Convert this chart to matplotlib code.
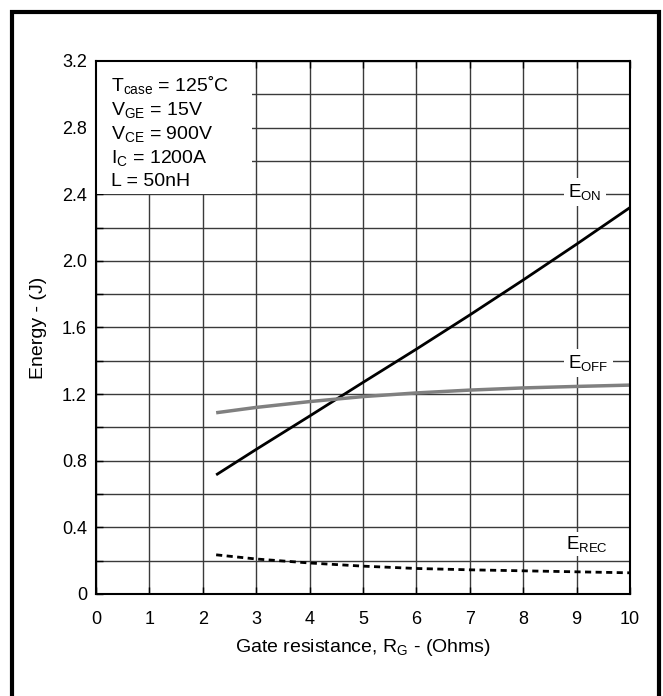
import matplotlib
matplotlib.use("Agg")
import matplotlib.pyplot as plt
from matplotlib.patches import Rectangle
from matplotlib.lines import Line2D

plt.rcParams['font.family'] = ['Liberation Sans', 'DejaVu Sans']
plt.rcParams['mathtext.fontset'] = 'custom'
plt.rcParams['mathtext.rm'] = 'Liberation Sans'
plt.rcParams['mathtext.it'] = 'Liberation Sans'
plt.rcParams['mathtext.default'] = 'regular'

# Data
rg = [2.25, 3, 4, 5, 6, 7, 8, 9, 10]
e_on = [0.715, 0.868, 1.068, 1.27, 1.47, 1.675, 1.885, 2.10, 2.32]
e_off = [1.088, 1.12, 1.155, 1.185, 1.207, 1.224, 1.237, 1.246, 1.254]
e_rec = [0.235, 0.21, 0.186, 0.167, 0.153, 0.145, 0.139, 0.133, 0.127]

x_ticks = list(range(0, 11))
y_ticks = [0, 0.4, 0.8, 1.2, 1.6, 2.0, 2.4, 2.8, 3.2]
y_tick_labels = ['0', '0.4', '0.8', '1.2', '1.6', '2.0', '2.4', '2.8', '3.2']
y_minor = [0.2, 0.6, 1.0, 1.4, 1.8, 2.2, 2.6, 3.0]

cond_lines = ['$T_{case}$ = 125˚C', '$V_{GE}$ = 15V', '$V_{CE}$ = 900V',
              '$I_{C}$ = 1200A', 'L = 50nH']

fig = plt.figure(figsize=(6.63, 6.96), dpi=100)
ax = fig.add_axes([0.1448, 0.1466, 0.9502 - 0.1448, 0.9124 - 0.1466])

ax.set_xlim(0, 10)
ax.set_ylim(0, 3.2)
ax.set_xticks(x_ticks)
ax.set_yticks(y_ticks)
ax.set_yticklabels(y_tick_labels)
ax.set_yticks(y_minor, minor=True)

ax.grid(True, which='both', color='#3a3a3a', linewidth=1.0, zorder=1)
ax.set_axisbelow(True)

for s in ax.spines.values():
    s.set_linewidth(1.5)
    s.set_zorder(6)

ax.tick_params(axis='x', which='both', length=0, labelsize=13, pad=12)
ax.tick_params(axis='y', which='both', direction='in', length=5, width=1,
               labelsize=13, pad=6.5, left=True, right=False)
ax.tick_params(axis='x', which='major', top=True, direction='in', length=5, width=1)

# Conditions box (white, covering the grid)
ax.add_patch(Rectangle((0, 2.4), 2.92, 0.8, facecolor='white', edgecolor='none', zorder=2))
for i, t in enumerate(cond_lines):
    ax.text(0.29, 3.017 - i * 0.1426, t, fontsize=14, va='baseline', ha='left', zorder=3)

ax.plot(rg, e_on, color='black', linewidth=2.0, zorder=4, solid_capstyle='butt')
ax.plot(rg, e_off, color='#808080', linewidth=2.5, zorder=4, solid_capstyle='butt')
ax.plot(rg, e_rec, color='black', linewidth=2.0, linestyle=(0, (2.2, 1.6)), zorder=4)

ax.text(8.84, 2.384, '$E_{ON}$', fontsize=13.5, va='baseline', ha='left',
        bbox=dict(facecolor='white', edgecolor='none', pad=3), zorder=3)
ax.text(8.84, 1.357, '$E_{OFF}$', fontsize=13.5, va='baseline', ha='left',
        bbox=dict(facecolor='white', edgecolor='none', pad=3), zorder=3)
ax.text(8.80, 0.27, '$E_{REC}$', fontsize=13.5, va='baseline', ha='left',
        bbox=dict(facecolor='white', edgecolor='none', pad=1.5), zorder=3)

ax.set_xlabel('Gate resistance, $R_G$ - (Ohms)', fontsize=14, labelpad=6.5)
ax.set_ylabel('Energy - (J)', fontsize=14, labelpad=11)

# Outer frame (left, top, right; open at the bottom edge of the image)
W, H = 663.0, 696.0
xl, xr, yt = 12 / W, 659 / W, 1 - 12 / H
fig.lines.append(Line2D([xl, xl, xr, xr], [-0.01, yt, yt, -0.01], transform=fig.transFigure,
                        color='black', linewidth=3.0, solid_joinstyle='miter', figure=fig))

fig.savefig('out.png', dpi=100)
